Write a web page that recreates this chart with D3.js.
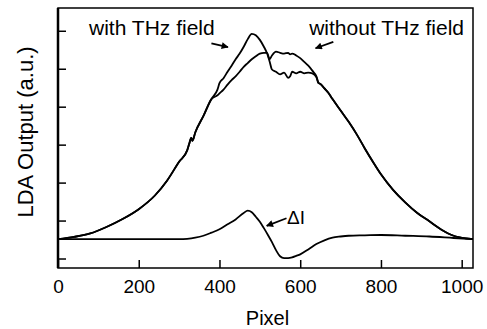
<!DOCTYPE html>
<html>
<head>
<meta charset="utf-8">
<script src="https://cdn.jsdelivr.net/npm/d3@7.9.0/dist/d3.min.js"></script>
<style>
  body { margin: 0; background: #fff; }
  svg { display: block; font-family: 'Liberation Sans', Arial, Helvetica, sans-serif; }
</style>
</head>
<body>
<div id="chart"></div>
<script>
// LDA pixel positions for the two spectra (shared grid)
const pixel = [0, 40, 80, 120, 160, 200, 240, 270, 300, 320, 325, 330, 333, 340, 360, 380, 395,
  400, 410, 420, 430, 440, 450, 460, 470, 480, 490, 500, 510, 518, 524, 530, 540, 550, 560,
  570, 575, 580, 590, 600, 610, 620, 630, 640, 645, 650, 660, 670, 680, 700, 720, 740, 760,
  780, 800, 830, 860, 890, 920, 950, 980, 1010, 1028];

const withTHz = [0.51, 0.57, 0.66, 0.83, 1.04, 1.30, 1.66, 2.05, 2.55, 2.85, 3.02, 3.18, 3.10, 3.32, 3.75, 4.20, 4.45,
  4.62, 4.75, 4.92, 5.08, 5.25, 5.40, 5.58, 5.78, 5.92, 5.88, 5.76, 5.58, 5.40, 5.20, 4.98, 4.92, 4.85, 4.90,
  4.76, 4.80, 4.92, 4.88, 4.92, 4.88, 4.90, 4.88, 4.78, 4.62, 4.60, 4.48, 4.36, 4.20, 3.90, 3.60, 3.27, 2.90,
  2.55, 2.22, 1.81, 1.48, 1.20, 0.98, 0.76, 0.60, 0.53, 0.51];

const withoutTHz = [0.51, 0.57, 0.66, 0.83, 1.04, 1.30, 1.66, 2.05, 2.55, 2.85, 3.02, 3.18, 3.10, 3.32, 3.75, 4.20, 4.30,
  4.35, 4.45, 4.58, 4.70, 4.80, 4.92, 5.05, 5.15, 5.25, 5.33, 5.40, 5.42, 5.42, 5.25, 5.35, 5.45, 5.42, 5.40,
  5.42, 5.38, 5.40, 5.35, 5.28, 5.18, 5.08, 4.95, 4.80, 4.64, 4.60, 4.48, 4.36, 4.20, 3.90, 3.60, 3.27, 2.90,
  2.55, 2.22, 1.81, 1.48, 1.20, 0.98, 0.76, 0.60, 0.53, 0.51];

// difference signal
const deltaPixel = [0, 100, 200, 300, 320, 340, 360, 380, 400, 420, 440, 460, 470, 480, 490, 500, 510, 520,
  530, 540, 550, 560, 570, 580, 590, 600, 620, 640, 660, 680, 700, 720, 760, 800, 860, 920, 980, 1028];
const deltaI = [0.51, 0.51, 0.51, 0.51, 0.52, 0.55, 0.60, 0.68, 0.77, 0.90, 1.03, 1.20, 1.26, 1.22, 1.10, 0.97, 0.80, 0.62,
  0.43, 0.22, 0.06, 0.01, 0.01, 0.03, 0.07, 0.11, 0.24, 0.38, 0.48, 0.55, 0.58, 0.60, 0.61, 0.62, 0.60, 0.58, 0.54, 0.51];

const xTicks = [0, 200, 400, 600, 800, 1000];
const yTicks = [0, 1, 2, 3, 4, 5, 6];

const width = 487;
const height = 329;
const margin = { top: 8, right: 14, bottom: 61, left: 58 };

const svg = d3.select('#chart').append('svg')
  .attr('width', width)
  .attr('height', height);

const xScale = d3.scaleLinear().domain([0, 1028]).range([margin.left, width - margin.right]);
const yScale = d3.scaleLinear().domain([-0.25, 6.6]).range([height - margin.bottom, margin.top]);

const xAxis = svg.append('g')
  .attr('transform', `translate(0,${height - margin.bottom})`)
  .call(d3.axisBottom(xScale).tickValues(xTicks).tickFormat(d3.format('d'))
    .tickSizeInner(-8).tickSizeOuter(0).tickPadding(12));
xAxis.select('.domain').remove();
xAxis.selectAll('line').attr('stroke', '#000').attr('stroke-width', 1.5);
xAxis.selectAll('text').attr('fill', '#000').style('font-size', '19px');

const yAxis = svg.append('g')
  .attr('transform', `translate(${margin.left},0)`)
  .call(d3.axisLeft(yScale).tickValues(yTicks).tickSizeInner(-8).tickSizeOuter(0).tickFormat(''));
yAxis.select('.domain').remove();
yAxis.selectAll('line').attr('stroke', '#000').attr('stroke-width', 1.5);

// frame
svg.append('rect')
  .attr('x', margin.left)
  .attr('y', margin.top)
  .attr('width', width - margin.left - margin.right)
  .attr('height', height - margin.top - margin.bottom)
  .attr('fill', 'none')
  .attr('stroke', '#000')
  .attr('stroke-width', 1.5);
svg.append('line')
  .attr('x1', margin.left).attr('x2', margin.left)
  .attr('y1', margin.top).attr('y2', height - margin.bottom)
  .attr('stroke', '#000').attr('stroke-width', 2.5);

const line = d3.line()
  .x(d => xScale(d[0]))
  .y(d => yScale(d[1]))
  .curve(d3.curveMonotoneX);

const series = [
  d3.zip(pixel, withoutTHz),
  d3.zip(pixel, withTHz),
  d3.zip(deltaPixel, deltaI),
];

svg.append('g').selectAll('path')
  .data(series)
  .join('path')
  .attr('d', line)
  .attr('fill', 'none')
  .attr('stroke', '#000')
  .attr('stroke-width', 1.8)
  .attr('stroke-linejoin', 'round');

// labels
svg.append('text')
  .attr('x', (margin.left + width - margin.right) / 2 + 2)
  .attr('y', 325)
  .attr('text-anchor', 'middle')
  .style('font-size', '20px')
  .text('Pixel');

svg.append('text')
  .attr('transform', 'translate(33,132) rotate(-90)')
  .attr('text-anchor', 'middle')
  .style('font-size', '22px')
  .text('LDA Output (a.u.)');

svg.append('text')
  .attr('x', 89).attr('y', 35)
  .style('font-size', '21px')
  .text('with THz field');

svg.append('text')
  .attr('x', 464).attr('y', 35)
  .attr('text-anchor', 'end')
  .style('font-size', '21px')
  .text('without THz field');

svg.append('text')
  .attr('x', 287).attr('y', 224)
  .style('font-size', '19px')
  .text('ΔI');

// arrows (data coordinates: tail -> head)
svg.append('defs').append('marker')
  .attr('id', 'head')
  .attr('viewBox', '0 0 10 10')
  .attr('refX', 9).attr('refY', 5)
  .attr('markerWidth', 10).attr('markerHeight', 7)
  .attr('markerUnits', 'userSpaceOnUse')
  .attr('orient', 'auto')
  .append('path')
  .attr('d', 'M0,0L10,5L0,10Z')
  .attr('fill', '#000');

const arrows = [
  [[380, 5.67], [421, 5.57]],
  [[682, 5.71], [638, 5.54]],
  [[566, 1.06], [517, 0.86]],
];

svg.append('g').selectAll('line')
  .data(arrows)
  .join('line')
  .attr('x1', d => xScale(d[0][0]))
  .attr('y1', d => yScale(d[0][1]))
  .attr('x2', d => xScale(d[1][0]))
  .attr('y2', d => yScale(d[1][1]))
  .attr('stroke', '#000')
  .attr('stroke-width', 1.8)
  .attr('marker-end', 'url(#head)');
</script>
</body>
</html>
